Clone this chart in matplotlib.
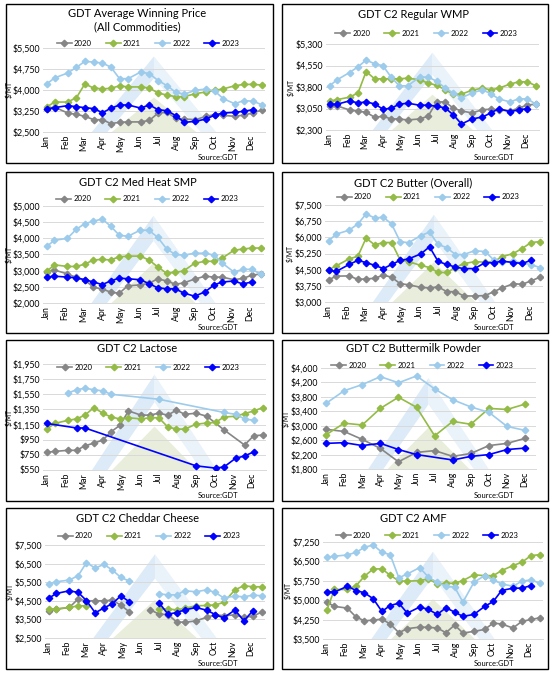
import matplotlib
matplotlib.use("Agg")
import matplotlib.pyplot as plt
import numpy as np
from matplotlib.patches import Rectangle, Polygon

plt.rcParams['font.family'] = ['Lato', 'DejaVu Sans']

# --- data ---
years = ["2020", "2021", "2022", "2023"]
year_colors = ["#868686", "#93bb46", "#9dcbec", "#0000ff"]
months = ["Jan", "Feb", "Mar", "Apr", "May", "Jun",
          "Jul", "Aug", "Sep", "Oct", "Nov", "Dec"]

# position of each of the 24 auction events in months from the first January event
auction_pos = [0, 0.42, 1.12, 1.6, 2.05, 2.53, 3.0, 3.45, 3.92, 4.38, 5.05, 5.53,
               6.0, 6.48, 6.95, 7.4, 8.0, 8.58, 9.05, 9.5, 10.12, 10.6, 11.1, 11.58]
month_pos = list(range(12))

awp_2020 = [3330, 3390, 3180, 3130, 3060, 2940, 2940, 2800, 2845, 2860, 2860, 2915,
            3180, 3200, 2990, 2965, 2940, 3060, 3120, 3095, 3060, 3105, 3180, 3285]
awp_2021 = [3390, 3570, 3570, 3725, 4215, 4070, 4040, 4060, 4150, 4110, 4110, 4070,
            3890, 3820, 3760, 3760, 3870, 3930, 3990, 4040, 4150, 4200, 4200, 4180]
awp_2022 = [4215, 4430, 4605, 4810, 5020, 5000, 4960, 4820, 4405, 4405, 4640, 4585,
            4335, 4155, 3915, 3850, 3990, 4035, 3960, 3690, 3510, 3620, 3600, 3475]
awp_2023 = [3320, 3370, 3440, 3405, 3370, 3335, 3190, 3345, 3465, 3465, 3355, 3465,
            3295, 3260, 3085, 2845, 2880, 2965, 3105, 3180, 3200, 3240, 3295]

wmp_2020 = [3140, 3140, 3000, 2955, 2920, 2745, 2780, 2685, 2685, 2650, 2685, 2780,
            3280, 3280, 3060, 2965, 2895, 3010, 3025, 3000, 2965, 3060, 3175, 3200]
wmp_2021 = [3305, 3360, 3445, 3595, 4340, 4085, 4085, 4085, 4085, 4110, 4050, 3935,
            3865, 3700, 3550, 3550, 3690, 3760, 3700, 3760, 3900, 3980, 3980, 3840]
wmp_2022 = [3840, 4050, 4305, 4505, 4740, 4610, 4540, 4145, 3840, 3840, 4145, 4145,
            4005, 3770, 3585, 3430, 3585, 3710, 3560, 3385, 3280, 3385, 3385, 3200]
wmp_2023 = [3200, 3200, 3315, 3245, 3280, 3210, 3025, 3060, 3200, 3235, 3165, 3165,
            3130, 3070, 2825, 2510, 2685, 2755, 2895, 3045, 2940, 3000, 3045]

smp_2020 = [2970, 3020, 2900, 2790, 2710, 2490, 2430, 2340, 2300, 2530, 2560, 2610,
            2745, 2685, 2580, 2620, 2740, 2830, 2800, 2800, 2720, 2760, 2860, 2900]
smp_2021 = [2980, 3180, 3130, 3130, 3200, 3330, 3350, 3330, 3430, 3450, 3450, 3330,
            3120, 2920, 2950, 2990, 3230, 3290, 3290, 3390, 3630, 3670, 3700, 3700]
smp_2022 = [3750, 3940, 4000, 4280, 4450, 4530, 4600, 4380, 4100, 4060, 4250, 4250,
            4030, 3680, 3500, 3480, 3540, 3540, 3480, 3230, 2960, 3040, 3040, 2890]
smp_2023 = [2800, 2830, 2800, 2780, 2720, 2650, 2570, 2680, 2770, 2750, 2720, 2600,
            2470, 2440, 2440, 2310, 2210, 2350, 2560, 2650, 2680, 2590, 2650]

but_2020 = [4030, 4200, 4210, 4050, 4070, 4100, 4250, 4150, 3850, 3800, 3680, 3650,
            3700, 3480, 3480, 3280, 3280, 3300, 3480, 3650, 3850, 3820, 3980, 4150]
but_2021 = [4500, 4680, 5000, 5120, 5960, 5650, 5760, 5760, 4950, 4870, 4700, 4600,
            4370, 4370, 4600, 4780, 4870, 4850, 4870, 5100, 5250, 5480, 5760, 5800]
but_2022 = [5840, 6150, 6330, 6620, 7080, 6900, 6930, 6620, 5800, 5750, 6080, 6240,
            5670, 5520, 5200, 5200, 5380, 5340, 4950, 4850, 4880, 4820, 4730, 4600]
but_2023 = [4470, 4420, 4740, 4930, 4830, 4700, 4550, 4740, 4930, 5000, 5230, 5560,
            4880, 4740, 4620, 4550, 4550, 4830, 4810, 4900, 4830, 4790, 4930]

lac_2020 = [785, 795, 810, 810, 870, 905, 945, 1055, 1140, 1330, 1275, 1275,
            1300, 1275, 1340, 1285, 1300, 1260, None, 1080, None, 880, 1005, 1010]
lac_2021 = [1090, 1165, 1205, 1225, 1275, 1375, 1300, 1250, 1225, 1240, 1225, 1240,
            1240, 1120, 1090, 1090, 1155, 1170, 1180, 1250, 1260, 1295, 1330, 1375]
lac_2022 = [None, None, 1565, 1610, 1630, 1610, 1595, 1550, None, None, None, None,
            1485, None, None, None, None, None, None, 1310, 1285, 1225, 1205, None]
lac_2023 = [1165, None, None, 1105, 1105, None, None, None, None, None, None, None,
            None, None, None, None, 605, None, 575, 590, 705, 735, 790]

bmp_2020 = [2900, 2840, 2620, 2370, 2000, 2260, 2310, 2150, 2230, 2450, 2510, 2650]
bmp_2021 = [2750, 3070, 3020, 3480, 3790, 3510, 2720, 3120, 3040, 3480, 3450, 3600]
bmp_2022 = [3620, 3970, 4140, 4360, 4190, 4380, 4020, 3720, 3520, 3370, 2980, 2870]
bmp_2023 = [2510, 2530, 2450, 2510, 2340, 2200, None, 2050, 2150, 2200, 2340, 2380]

ched_2020 = [3950, 4050, 4140, 4600, 4500, 4500, 4500, 4535, 4265, 3905, None, 4010,
             3780, 3760, 3365, 3345, 3420, 3615, 3740, 3705, 3740, 3615, 3670, 3905]
ched_2021 = [4050, 4065, 4140, 4230, 4230, None, None, None, None, None, None, None,
             4065, 4065, 4010, 4100, 4230, 4250, 4280, 4410, 5090, 5310, 5255, 5255]
ched_2022 = [5415, 5525, 5615, 5850, 6550, 6260, 6460, 6155, 5760, 5560, None, None,
             4875, 4820, 4820, 5040, 4985, 5090, 4950, 4660, 4750, 4715, 4805, 4770]
ched_2023 = [4640, 4895, 5040, 4950, 4515, 3850, 4120, 4335, 4770, 4445, None, None,
             4390, 3780, 3870, 4010, 4140, 3995, 3760, 3580, 4010, 3420, 3975]

amf_2020 = [4925, 4760, 4695, 4345, 4205, 4230, 4270, 4080, 3745, 3900, 3960, 3950,
            3925, 3745, 4040, 3730, 3795, 3870, 4115, 4080, 3925, 4180, 4255, 4320]
amf_2021 = [4605, 5415, 5415, 5565, 5925, 6210, 6210, 5965, 5745, 5735, 5760, 5825,
            5630, 5655, 5655, 5760, 5980, 5950, 5950, 6145, 6340, 6465, 6725, 6760]
amf_2022 = [6660, 6700, 6750, 6850, 7045, 7135, 6850, 6760, 5865, 6015, 6260, 5890,
            5695, 5530, 5505, 4925, 5695, 5950, 5785, 5630, 5540, 5735, 5785, 5655]
amf_2023 = [5335, 5310, 5540, 5375, 5285, 5055, 4565, 4795, 4885, 4500, 4735, 4645,
            4450, 4705, 4540, 4375, 4450, 4760, 4950, 5375, 5465, 5465, 5565]

# y axis (min, max, step) per chart
awp_axis = (2500, 5500, 750)
wmp_axis = (2300, 5300, 750)
smp_axis = (2000, 5000, 500)
but_axis = (3000, 7500, 750)
lac_axis = (550, 1950, 200)
bmp_axis = (1800, 4600, 400)
ched_axis = (2500, 7500, 1000)
amf_axis = (3500, 7250, 750)

# --- layout (pixels) ---
W, H = 552, 674
fig = plt.figure(figsize=(W / 100, H / 100), dpi=100)

# title, series, yaxis, x, connect gaps, panel box, axes box, title y, legend y
panels = [
    ("GDT Average Winning Price\n(All Commodities)", [awp_2020, awp_2021, awp_2022, awp_2023],
     awp_axis, auction_pos, False, (6, 4, 273, 163), (43, 48, 265, 132), 20, 43),
    ("GDT C2 Regular WMP", [wmp_2020, wmp_2021, wmp_2022, wmp_2023],
     wmp_axis, auction_pos, False, (282, 4, 548, 163), (326, 44, 539, 130), 14, 33),
    ("GDT C2 Med Heat SMP", [smp_2020, smp_2021, smp_2022, smp_2023],
     smp_axis, auction_pos, False, (6, 172, 273, 333), (43, 206, 264, 303), 183, 199),
    ("GDT C2 Butter (Overall)", [but_2020, but_2021, but_2022, but_2023],
     but_axis, auction_pos, False, (282, 172, 548, 333), (325, 205, 543, 302), 183, 197),
    ("GDT C2 Lactose", [lac_2020, lac_2021, lac_2022, lac_2023],
     lac_axis, auction_pos, True, (6, 340, 273, 501), (43, 364, 266, 470), 349, 367),
    ("GDT C2 Buttermilk Powder", [bmp_2020, bmp_2021, bmp_2022, bmp_2023],
     bmp_axis, month_pos, True, (282, 340, 548, 501), (321, 368, 536, 469), 349, 365),
    ("GDT C2 Cheddar Cheese", [ched_2020, ched_2021, ched_2022, ched_2023],
     ched_axis, auction_pos, False, (6, 508, 273, 669), (45, 545, 265, 638), 519, 536),
    ("GDT C2 AMF", [amf_2020, amf_2021, amf_2022, amf_2023],
     amf_axis, auction_pos, False, (282, 508, 548, 669), (323, 542, 543, 639), 519, 535),
]


def fx(x):
    return x / W


def fy(y):
    return 1 - y / H


for title, series, (ymin, ymax, ystep), xpos, connect, box, abox, ty, ly in panels:
    bx0, by0, bx1, by1 = box
    fig.add_artist(Rectangle((fx(bx0), fy(by1)), fx(bx1 - bx0), (by1 - by0) / H,
                             transform=fig.transFigure, fill=False, ec="black", lw=1.0))
    l, t, r, b = abox
    ax = fig.add_axes([fx(l), fy(b), fx(r - l), (b - t) / H])
    ax.set_axisbelow(True)

    # faded logo watermark behind the lines
    ax.add_patch(Polygon([(0.22, 0), (0.50, 0.90), (0.50, 0.64), (0.29, 0)], closed=True,
                         transform=ax.transAxes, fc="#dcebf7", ec="none", zorder=0.1))
    ax.add_patch(Polygon([(0.50, 0.90), (0.78, 0), (0.71, 0), (0.50, 0.64)], closed=True,
                         transform=ax.transAxes, fc="#eaf3fa", ec="none", zorder=0.1))
    ax.add_patch(Polygon([(0.31, 0), (0.50, 0.41), (0.69, 0)], closed=True,
                         transform=ax.transAxes, fc="#e8eedb", ec="none", zorder=0.1))

    handles = []
    for vals, year, col in zip(series, years, year_colors):
        xs = np.array(xpos[:len(vals)], dtype=float)
        ys = np.array([np.nan if v is None else v for v in vals], dtype=float)
        if connect:
            keep = ~np.isnan(ys)
            xs, ys = xs[keep], ys[keep]
        h, = ax.plot(xs, ys, color=col, lw=1.2, marker="D", ms=3.3,
                     mec=col, mfc=col, label=year, zorder=3 if year == "2023" else 2)
        handles.append(h)

    if xpos is month_pos:
        ax.set_xlim(-0.28, 11.6)
    else:
        ax.set_xlim(-0.2, 11.75)
    ax.set_xticks(range(12))
    ax.set_xticklabels(months, rotation=90, fontsize=6.3)
    ax.set_ylim(ymin, ymax)
    yt = np.arange(ymin, ymax + 1, ystep)
    ax.set_yticks(yt)
    ax.set_yticklabels(["${:,.0f}".format(v) for v in yt], fontsize=6.3)
    ax.tick_params(length=0, pad=2)
    ax.grid(axis="y", color="#d9d9d9", lw=0.7)
    for s in ["top", "right", "left"]:
        ax.spines[s].set_visible(False)
    ax.spines["bottom"].set_color("#d9d9d9")
    ax.spines["bottom"].set_linewidth(0.7)
    ax.set_facecolor("none")

    cx = (bx0 + bx1) / 2 - 2
    fig.text(fx(cx), fy(ty), title, ha="center", va="center", fontsize=8,
             linespacing=1.2, color="black")
    fig.legend(handles=handles, loc="center", bbox_to_anchor=(fx((l + r) / 2 - 6), fy(ly)),
               ncol=4, frameon=False, fontsize=5.6, handlelength=1.9, handletextpad=0.3,
               columnspacing=1.8, borderpad=0, borderaxespad=0)
    fig.text(fx(max(l - 35, bx0 + 3)), fy((t + b) / 2), "$/MT", rotation=90,
             ha="center", va="center", fontsize=4.8)
    fig.text(fx(bx0 + 212), fy(by1 - 5), "Source:GDT", ha="center", va="center",
             fontsize=5.4)

fig.savefig("out.png", dpi=100, facecolor="white")
